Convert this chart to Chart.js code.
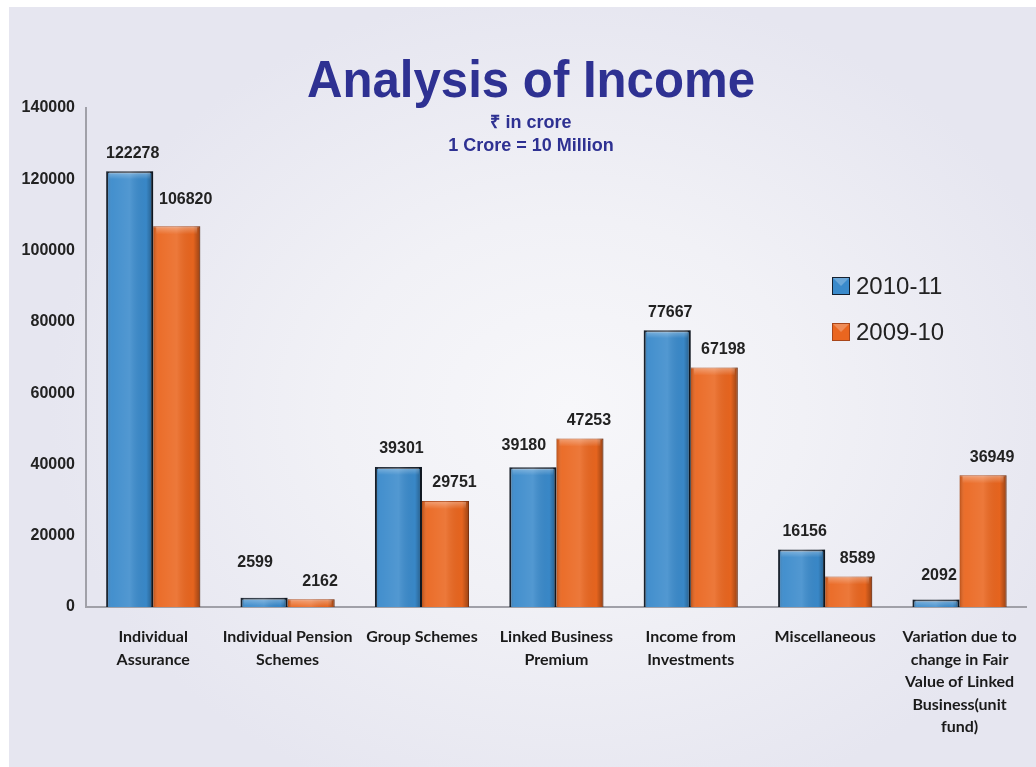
<!DOCTYPE html>
<html>
<head>
<meta charset="utf-8">
<script src="https://cdn.jsdelivr.net/npm/chart.js@4.4.0/dist/chart.umd.min.js"></script>
<style>
  html, body { margin: 0; padding: 0; background: #fff; }
  #wrap { position: relative; width: 1036px; height: 767px; overflow: hidden; }
  #panel {
    position: absolute; left: 9px; top: 7px; right: 0; bottom: 0;
    background: radial-gradient(ellipse 520px 420px at 560px 400px, #f7f7fa 0%, #f1f1f6 45%, #e6e6f0 100%);
  }
  #incomeChart { position: absolute; left: 0; top: 0; }
</style>
</head>
<body>
<div id="wrap">
  <div id="panel"></div>
  <canvas id="incomeChart" width="1036" height="767"></canvas>
</div>
<script>
const categories = [
    ['Individual', 'Assurance'],
    ['Individual Pension', 'Schemes'],
    ['Group Schemes'],
    ['Linked Business', 'Premium'],
    ['Income from', 'Investments'],
    ['Miscellaneous'],
    ['Variation due to', 'change in Fair', 'Value of Linked', 'Business(unit', 'fund)']
];
const income2010 = [122278, 2599, 39301, 39180, 77667, 16156, 2092];
const income2009 = [106820, 2162, 29751, 47253, 67198, 8589, 36949];
const seriesNames = ['2010-11', '2009-10'];

const titleText = 'Analysis of Income';
const subtitleLines = ['\u20B9 in crore', '1 Crore = 10 Million'];

// bevel shading on top of the plain bars
const bevelPlugin = {
    id: 'bevel',
    afterDatasetsDraw(chart) {
        const ctx = chart.ctx;
        chart.data.datasets.forEach((ds, i) => {
            const meta = chart.getDatasetMeta(i);
            meta.data.forEach(bar => {
                const left = bar.x - bar.width / 2;
                const w = bar.width;
                const top = bar.y;
                const h = bar.base - bar.y;
                if (h <= 0) return;
                const g = ctx.createLinearGradient(left, 0, left + w, 0);
                g.addColorStop(0, 'rgba(0,0,0,0.22)');
                g.addColorStop(0.12, 'rgba(255,255,255,0.05)');
                g.addColorStop(0.5, 'rgba(255,255,255,0.12)');
                g.addColorStop(0.85, 'rgba(0,0,0,0.02)');
                g.addColorStop(1, 'rgba(0,0,0,0.35)');
                ctx.save();
                ctx.fillStyle = g;
                ctx.fillRect(left, top, w, h);
                const bh = Math.min(8, h);
                const tg = ctx.createLinearGradient(0, top, 0, top + bh);
                tg.addColorStop(0, 'rgba(255,255,255,0.35)');
                tg.addColorStop(1, 'rgba(255,255,255,0.0)');
                ctx.fillStyle = tg;
                ctx.fillRect(left + 3, top + 1, w - 6, bh);
                ctx.restore();
            });
        });
    }
};

// value labels above bars
const valueLabels = {
    id: 'valueLabels',
    afterDatasetsDraw(chart) {
        const ctx = chart.ctx;
        ctx.save();
        ctx.font = 'bold 16px "Liberation Sans", Arial, sans-serif';
        ctx.fillStyle = '#222';
        ctx.textAlign = 'center';
        ctx.textBaseline = 'middle';
        chart.data.datasets.forEach((ds, i) => {
            const meta = chart.getDatasetMeta(i);
            meta.data.forEach((bar, j) => {
                let dy = 18;
                if (i === 1 && j === 0) dy = 27;
                if (i === 0 && j === 1) dy = 35;
                if (i === 0 && j === 6) dy = 24;
                if (i === 0 && j === 3) dy = 22;
                let dx = i === 1 ? 9 : 3;
                if (i === 0 && (j === 1 || j === 3)) dx = -9;
                ctx.fillText(ds.data[j], bar.x + dx, bar.y - dy);
            });
        });
        ctx.restore();
    }
};

const headerAndLegend = {
    id: 'headerAndLegend',
    afterDraw(chart) {
        const ctx = chart.ctx;
        ctx.save();
        // title, fitted to the reference width
        ctx.fillStyle = '#2e3192';
        ctx.textAlign = 'left';
        ctx.textBaseline = 'alphabetic';
        ctx.font = 'bold 52px "Liberation Sans", Arial, sans-serif';
        const tw = ctx.measureText(titleText).width;
        const sx = 448 / tw;
        ctx.translate(307, 97);
        ctx.scale(sx, 1);
        ctx.fillText(titleText, 0, 0);
        ctx.setTransform(1, 0, 0, 1, 0, 0);

        ctx.textAlign = 'center';
        ctx.textBaseline = 'middle';
        ctx.font = 'bold 18px "Liberation Sans", Arial, sans-serif';
        ctx.fillText(subtitleLines[0], 531, 123);
        ctx.fillText(subtitleLines[1], 531, 146);

        // legend
        const colors = ['#3a8acb', '#ea661f'];
        const borders = ['#15202e', '#a8461a'];
        ctx.textAlign = 'left';
        ctx.font = '24px "Liberation Sans", Arial, sans-serif';
        seriesNames.forEach((name, i) => {
            const y = 286 + i * 46;
            ctx.fillStyle = colors[i];
            ctx.fillRect(832, y - 9, 18, 18);
            ctx.strokeStyle = borders[i];
            ctx.lineWidth = 1;
            ctx.strokeRect(832.5, y - 8.5, 17, 17);
            ctx.fillStyle = 'rgba(255,255,255,0.25)';
            ctx.beginPath();
            ctx.moveTo(833, y - 8); ctx.lineTo(849, y - 8); ctx.lineTo(841, y); ctx.closePath();
            ctx.fill();
            ctx.fillStyle = '#222';
            ctx.fillText(name, 856, y + 1);
        });
        ctx.restore();
    }
};

new Chart(document.getElementById('incomeChart'), {
    type: 'bar',
    data: {
        labels: categories,
        datasets: [{
            label: seriesNames[0],
            data: income2010,
            backgroundColor: '#3a8acb',
            borderColor: '#15202e',
            borderWidth: { top: 2, left: 2, right: 2, bottom: 0 },
            categoryPercentage: 0.7,
            barPercentage: 1.0
        }, {
            label: seriesNames[1],
            data: income2009,
            backgroundColor: '#ea661f',
            borderColor: '#b54c1a',
            borderWidth: { top: 1, left: 0, right: 1, bottom: 0 },
            categoryPercentage: 0.7,
            barPercentage: 1.0
        }]
    },
    options: {
        responsive: false,
        animation: false,
        layout: { padding: { left: 9, right: 6, top: 108, bottom: 0 } },
        plugins: {
            legend: { display: false },
            title: { display: false },
            tooltip: { enabled: false }
        },
        scales: {
            x: {
                grid: { display: false, drawTicks: false },
                border: { color: '#a0a0a8', width: 2 },
                ticks: {
                    color: '#1a1a1a',
                    padding: 19,
                    maxRotation: 0,
                    autoSkip: false,
                    font: { family: 'Lato, "Open Sans", sans-serif', size: 16, weight: 'bold', lineHeight: 1.4 }
                },
                afterFit: s => { s.height = 160; }
            },
            y: {
                min: 0,
                max: 140000,
                grid: { display: false, drawTicks: false },
                border: { color: '#a0a0a8', width: 2 },
                ticks: {
                    stepSize: 20000,
                    color: '#222',
                    padding: 11,
                    callback: v => String(v),
                    font: { family: '"Liberation Sans", Arial, sans-serif', size: 16, weight: 'bold' }
                },
                afterFit: s => { s.width = 77; }
            }
        }
    },
    plugins: [bevelPlugin, valueLabels, headerAndLegend]
});
</script>
</body>
</html>
